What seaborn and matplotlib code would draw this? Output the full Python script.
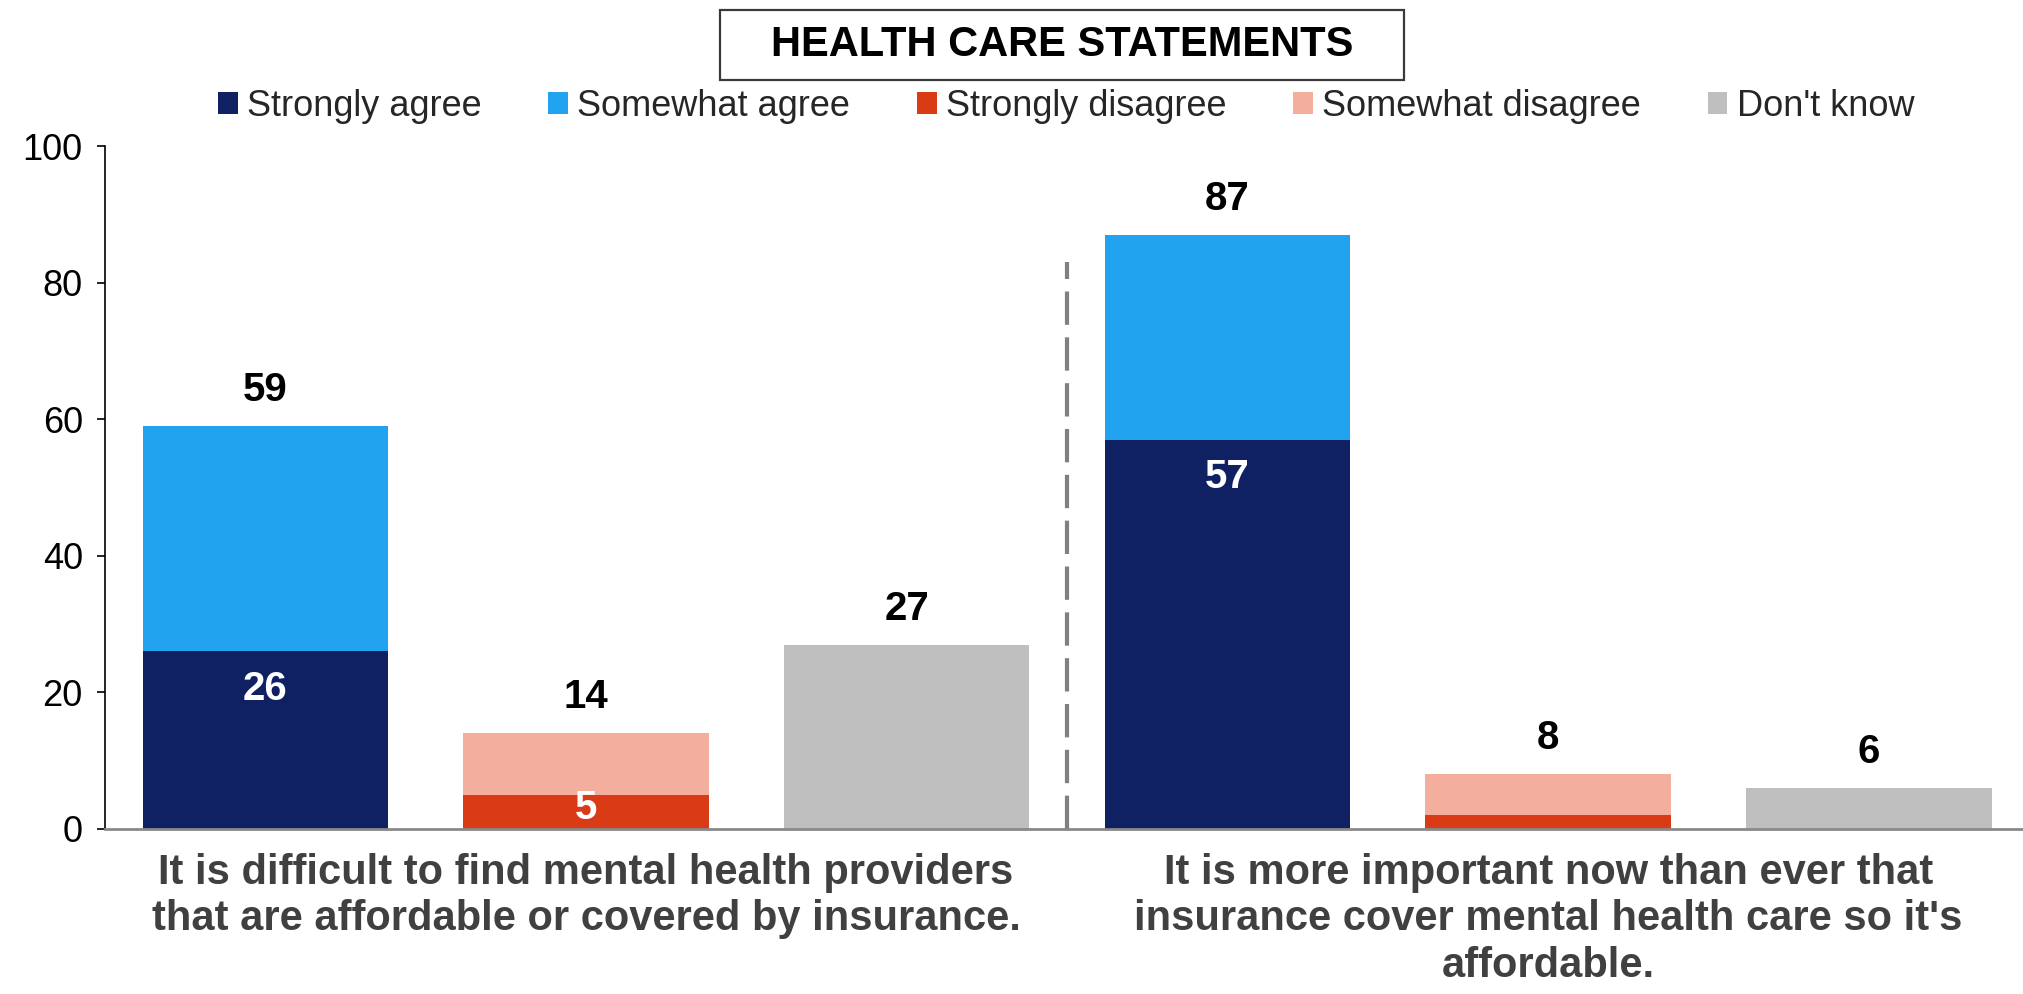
import seaborn as sns
import matplotlib.pyplot as plt
import pandas as pd
from matplotlib.patches import Patch, Rectangle

# data
statements = [
    "It is difficult to find mental health providers\nthat are affordable or covered by insurance.",
    "It is more important now than ever that\ninsurance cover mental health care so it's\naffordable.",
]
strongly_agree = [26, 57]
somewhat_agree = [33, 30]
strongly_disagree = [5, 2]
somewhat_disagree = [9, 6]
dont_know = [27, 6]

series = ["Strongly agree", "Somewhat agree", "Strongly disagree", "Somewhat disagree", "Don't know"]
colors = {
    "Strongly agree": "#0F2163",
    "Somewhat agree": "#21A3F0",
    "Strongly disagree": "#D93B17",
    "Somewhat disagree": "#F4AE9D",
    "Don't know": "#BFBFBF",
}

# one row per bar: lower segment + stacked total
rows = []
for i in range(len(statements)):
    agree_total = strongly_agree[i] + somewhat_agree[i]
    disagree_total = strongly_disagree[i] + somewhat_disagree[i]
    rows.append(dict(lower=strongly_agree[i], total=agree_total,
                     lower_c=colors["Strongly agree"], upper_c=colors["Somewhat agree"], inner=True))
    rows.append(dict(lower=strongly_disagree[i], total=disagree_total,
                     lower_c=colors["Strongly disagree"], upper_c=colors["Somewhat disagree"], inner=False))
    rows.append(dict(lower=dont_know[i], total=dont_know[i],
                     lower_c=colors["Don't know"], upper_c=colors["Don't know"], inner=False))
df = pd.DataFrame(rows)
df["slot"] = [str(i) for i in range(len(df))]

sns.set_theme(style="white")
plt.rcParams["font.family"] = ["Liberation Sans", "DejaVu Sans"]

fig = plt.figure(figsize=(20.23, 9.94), dpi=100)
ax = fig.add_axes([0.0519, 0.166, 0.948, 0.687])

sns.barplot(data=df, x="slot", y="total", hue="slot",
            palette=dict(zip(df["slot"], df["upper_c"])), legend=False,
            width=0.765, saturation=1, linewidth=0, errorbar=None, ax=ax)
sns.barplot(data=df, x="slot", y="lower", hue="slot",
            palette=dict(zip(df["slot"], df["lower_c"])), legend=False,
            width=0.765, saturation=1, linewidth=0, errorbar=None, ax=ax)

# total labels above bars
for i, r in df.iterrows():
    ax.annotate(str(r["total"]), xy=(i, r["total"]), xytext=(0, 26),
                textcoords="offset points", ha="center", va="center",
                fontsize=29, fontweight="bold", color="black")

# white labels inside the lower segments
for i, r in df.iterrows():
    if r["inner"]:
        ax.annotate(str(r["lower"]), xy=(i, r["lower"]), xytext=(0, -27),
                    textcoords="offset points", ha="center", va="center",
                    fontsize=29, fontweight="bold", color="white")
    elif r["lower"] != r["total"] and r["lower"] >= 4:
        ax.text(i, r["lower"] / 2 + 0.6, str(r["lower"]), ha="center", va="center",
                fontsize=29, fontweight="bold", color="white")

# group separator
ax.vlines(2.5, 0, 83, colors="#808080", linestyles=(0, (8, 3)), linewidth=3)

ax.set_xlim(-0.5, 5.48)
ax.set_ylim(0, 100)
ax.set_yticks(range(0, 101, 20))
ax.tick_params(axis="y", labelsize=26, colors="black", length=6, width=1.2,
               direction="out", left=True, pad=10)
ax.set_xticks([1, 4], labels=statements)
ax.tick_params(axis="x", length=0, pad=17)
for lbl in ax.get_xticklabels():
    lbl.set_fontsize(30)
    lbl.set_fontweight("bold")
    lbl.set_color("#404040")
    lbl.set_linespacing(1.22)
ax.set_xlabel("")
ax.set_ylabel("")

for s in ["top", "right"]:
    ax.spines[s].set_visible(False)
ax.spines["left"].set_color("black")
ax.spines["left"].set_linewidth(1.2)
ax.spines["bottom"].set_color("#898989")
ax.spines["bottom"].set_linewidth(2)

# title box
fig.patches.append(Rectangle((0.356, 0.9195), 0.338, 0.0704, transform=fig.transFigure,
                             fill=False, edgecolor="#3a3a3a", linewidth=1.6))
fig.text(0.525, 0.955, "HEALTH CARE STATEMENTS", ha="center", va="center",
         fontsize=30, fontweight="bold", color="black")

handles = [Patch(facecolor=colors[s], edgecolor="none", label=s) for s in series]
fig.legend(handles=handles, loc="center", bbox_to_anchor=(0.527, 0.893), ncol=5,
           frameon=False, fontsize=26, handlelength=0.55, handleheight=0.55,
           handletextpad=0.25, columnspacing=1.85)

plt.savefig("out.png", dpi=100)
